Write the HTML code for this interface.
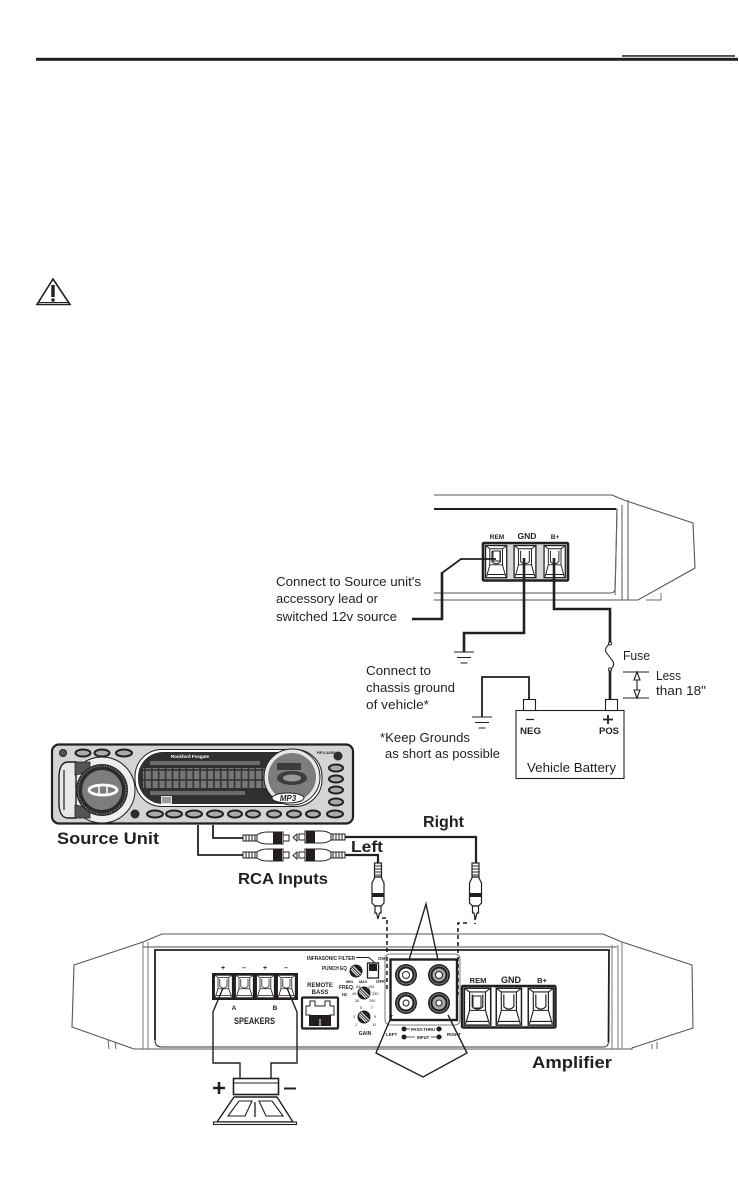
<!DOCTYPE html>
<html><head><meta charset="utf-8">
<style>
html,body{margin:0;padding:0;background:#fff;width:739px;height:1202px;overflow:hidden}
svg{display:block;filter:blur(.3px)}
text{font-family:"Liberation Sans",sans-serif;fill:#231f20}
.r{font-size:13px}
.b{font-weight:bold}
.w{fill:none;stroke:#231f20;stroke-linejoin:miter}
</style></head><body>
<svg width="739" height="1202" viewBox="0 0 739 1202" xmlns="http://www.w3.org/2000/svg">
<defs>
<g id="term">
<rect x="1" y="1" width="20" height="30" fill="#fff" stroke="#231f20" stroke-width="1.200"/>
<path d="M5 4H17V19H5ZM1 1L5 4M21 1L17 4M5 19L2 30M17 19L20 30M3 28H19M7 6V16Q11 20 15 16V6" fill="none" stroke="#231f20" stroke-width=".9"/>
</g>
<g id="male">
<rect x="0" y="-3" width="14" height="6" fill="#fff" stroke="#231f20" stroke-width="1"/>
<path d="M3-3V3M6-3V3M9-3V3M12-3V3" stroke="#231f20" stroke-width="1"/>
<path d="M14-3Q18-6 24-6H40V6H24Q18 6 14 3Z" fill="#fff" stroke="#231f20" stroke-width="1"/>
<rect x="30" y="-6" width="9" height="12" fill="#231f20"/>
<rect x="40" y="-3" width="6" height="6" fill="#fff" stroke="#231f20" stroke-width="1"/>
</g>
<g id="plug">
<rect x="-3.500" y="0" width="7" height="14" fill="#fff" stroke="#231f20" stroke-width="1.200"/>
<path d="M-3 3H3M-3 6H3M-3 9H3M-3 12H3" stroke="#231f20" stroke-width="1"/>
<path d="M-3 14H3L6 20V40L3 43H-3L-6 40V20Z" fill="#fff" stroke="#231f20" stroke-width="1.200"/>
<rect x="-6" y="30" width="12" height="4" fill="#231f20"/>
<path d="M-3 43H3V50H1.500L0 56L-1.500 50H-3Z" fill="#fff" stroke="#231f20" stroke-width="1.200"/>
</g>
<g id="gnd"><path d="M-10 0H10M-7 5.500H7M-3.500 11H3.500" stroke="#231f20" stroke-width="1.100" fill="none"/></g>
<g id="knob"><circle r="6.500" fill="#231f20"/><path d="M-4.500-3.500L3.500 4.500M-3-5L5 3M-5-1.500L1.500 5" stroke="#fff" stroke-width="1"/></g>
<pattern id="lcd" width="6.900" height="10" patternUnits="userSpaceOnUse"><rect width="6.900" height="10" fill="#333"/><rect x=".8" y=".8" width="5.300" height="8.400" fill="#777"/></pattern>
</defs>

<!-- header -->
<rect x="36" y="57.800" width="702" height="3" fill="#231f20"/>
<rect x="622" y="55.200" width="113" height="1.500" fill="#231f20"/>
<path d="M53 279L37 304.500H70Z" fill="#fff" stroke="#231f20" stroke-width="1.600"/>
<path d="M38.500 302.500H68.500" stroke="#231f20" stroke-width="1"/>
<path d="M53 285V297" stroke="#231f20" stroke-width="3.400"/><circle cx="53" cy="300" r="1.700" fill="#231f20"/>

<!-- top amplifier -->
<g class="w">
<path d="M434 495H612L625 500.500L693 523L695 568L638 600H434" stroke-width="1.100" stroke="#555"/>
<path d="M434 509H617Q616 560 615 590Q614 593 610 593H434" stroke-width="1.100" stroke="#555"/>
<path d="M434 509H616" stroke-width="2"/>
<path d="M617 509L615 595M622 505V600M628 500V600" stroke-width="1.100" stroke="#666"/>
<path d="M646 600H661V593" stroke-width=".9" stroke="#666"/>
</g>
<rect x="483" y="543" width="85" height="37.500" rx="1" fill="#d8d8d8" stroke="#231f20" stroke-width="2.600"/>
<g transform="translate(484.500,544.500) scale(1.060,1.070)"><use href="#term"/></g>
<g transform="translate(513,544.500) scale(1.090,1.070)"><use href="#term"/></g>
<g transform="translate(543,544.500) scale(1.060,1.070)"><use href="#term"/></g>
<rect x="493" y="551" width="7" height="10" fill="#fff" stroke="#231f20"/>
<text x="497" y="539" font-size="6.500" class="b" text-anchor="middle">REM</text>
<text x="527" y="539" font-size="8.500" class="b" text-anchor="middle">GND</text>
<text x="555" y="539" font-size="6.500" class="b" text-anchor="middle">B+</text>

<!-- top wires -->
<g class="w">
<path d="M496 559H461L442 573" stroke-width="1.800"/>
<path d="M442 572V619H412" stroke-width="2.600"/>
<path d="M524 558V633H464V652" stroke-width="2.600"/>
<path d="M554 558V609H610V643" stroke-width="2.600"/>
<path d="M610 643Q604 649 606 652T612 660T610 670" stroke-width="1.100"/>
<path d="M610 670V700" stroke-width="2.600"/>
<path d="M529 699V677H482V717" stroke-width="1.800"/>
</g>
<use href="#gnd" x="464" y="652"/>
<use href="#gnd" x="482" y="717"/>
<circle cx="610" cy="643.500" r="1.500" fill="#fff" stroke="#231f20"/>
<circle cx="610" cy="669.500" r="1.500" fill="#fff" stroke="#231f20"/>

<!-- battery -->
<rect x="516" y="710.500" width="108" height="68" fill="#fff" stroke="#231f20" stroke-width="1.100"/>
<rect x="523.500" y="699.500" width="12" height="11" fill="#fff" stroke="#231f20" stroke-width="1.100"/>
<rect x="605.500" y="699.500" width="12" height="11" fill="#fff" stroke="#231f20" stroke-width="1.100"/>
<path d="M526 719.500H534" stroke="#231f20" stroke-width="1.200"/>
<path d="M603 719.500H613M608 715V724" stroke="#231f20" stroke-width="1.800"/>
<text x="520" y="734" font-size="9.500" class="b" textLength="21" lengthAdjust="spacingAndGlyphs">NEG</text>
<text x="599" y="734" font-size="9.500" class="b" textLength="20" lengthAdjust="spacingAndGlyphs">POS</text>
<text x="527" y="772" class="r" textLength="89" lengthAdjust="spacingAndGlyphs">Vehicle Battery</text>

<!-- dimension -->
<path d="M623 672H649M623 698H649M637 672V698" stroke="#231f20" stroke-width="1.100" fill="none"/>
<path d="M637 672L634 680H640ZM637 698L634 690H640Z" fill="#fff" stroke="#231f20" stroke-width="1.100"/>

<!-- labels -->
<text x="623" y="660" class="r" textLength="27" lengthAdjust="spacingAndGlyphs">Fuse</text>
<text x="656" y="680" class="r" textLength="25" lengthAdjust="spacingAndGlyphs">Less</text>
<text x="656" y="695" class="r" textLength="50" lengthAdjust="spacingAndGlyphs">than 18"</text>
<text x="276" y="586" class="r" textLength="145" lengthAdjust="spacingAndGlyphs">Connect to Source unit's</text>
<text x="276" y="603" class="r" textLength="102" lengthAdjust="spacingAndGlyphs">accessory lead or</text>
<text x="276" y="621" class="r" textLength="121" lengthAdjust="spacingAndGlyphs">switched 12v source</text>
<text x="366" y="675" class="r" textLength="65" lengthAdjust="spacingAndGlyphs">Connect to</text>
<text x="366" y="692" class="r" textLength="89" lengthAdjust="spacingAndGlyphs">chassis ground</text>
<text x="366" y="709" class="r" textLength="63" lengthAdjust="spacingAndGlyphs">of vehicle*</text>
<text x="380" y="742" class="r" textLength="90" lengthAdjust="spacingAndGlyphs">*Keep Grounds</text>
<text x="385" y="758" class="r" textLength="115" lengthAdjust="spacingAndGlyphs">as short as possible</text>

<!-- source unit -->
<rect x="52" y="744.500" width="301" height="79" rx="7" fill="#d4d4d4" stroke="#231f20" stroke-width="2.200"/>
<rect x="135" y="749.500" width="187" height="57" rx="27" fill="#fff" stroke="#231f20" stroke-width="1"/>
<rect x="138" y="752" width="181" height="52" rx="25" fill="#303030"/>
<rect x="143" y="768" width="125" height="20" fill="url(#lcd)"/>
<rect x="150" y="761" width="110" height="4" fill="#6a6a6a"/>
<rect x="150" y="791" width="95" height="4" fill="#6a6a6a"/>
<rect x="161" y="796" width="11" height="8" fill="#ddd"/>
<path d="M162 798H171M162 800H171M162 802H171" stroke="#333" stroke-width=".7"/>
<circle cx="292" cy="777" r="28" fill="#e8e8e8" stroke="#231f20" stroke-width="1"/>
<circle cx="292" cy="777" r="24" fill="#7d7d7d"/>
<ellipse cx="292" cy="778" rx="15" ry="7" fill="#3c3c3c"/>
<ellipse cx="292" cy="778" rx="9" ry="3.500" fill="#999"/>
<rect x="277" y="763" width="24" height="7" fill="#3c3c3c"/>
<ellipse cx="288" cy="798" rx="16" ry="5" fill="#fff" stroke="#231f20"/>
<text x="288" y="801" font-size="8" class="b" text-anchor="middle" font-style="italic">MP3</text>
<text x="190" y="758" font-size="4.500" class="b" text-anchor="middle" style="fill:#fff">Rockford Fosgate</text>
<circle cx="102" cy="790" r="33" fill="#eee" stroke="#231f20" stroke-width="1"/>
<path d="M68 762Q60 762 59 775V805Q60 818 68 818H76V762Z" fill="#e8e8e8" stroke="#231f20" stroke-width="1.400"/>
<path d="M64 770V810" stroke="#231f20" stroke-width="1.200"/>
<path d="M75 762H90V772L75 775ZM75 818H90V808L75 805Z" fill="#555" stroke="#231f20" stroke-width=".8"/>
<circle cx="102" cy="790" r="26" fill="#2c2c2c"/>
<circle cx="102" cy="790" r="24" fill="none" stroke="#aaa" stroke-width="1" stroke-dasharray="1 1.500"/>
<circle cx="102" cy="790" r="20" fill="#7d7d7d"/>
<ellipse cx="103" cy="790" rx="14" ry="5" fill="none" stroke="#fff" stroke-width="2.800"/>
<path d="M99 785V795M107 785V795" stroke="#fff" stroke-width="1.500"/>
<g fill="#aaa" stroke="#231f20" stroke-width="2">
<ellipse cx="83" cy="753" rx="7.500" ry="3.500"/><ellipse cx="102" cy="753" rx="7.500" ry="3.500"/><ellipse cx="124" cy="753" rx="8" ry="3.500"/>
<ellipse cx="336" cy="768" rx="7" ry="3.500"/><ellipse cx="336" cy="779" rx="7" ry="3.500"/><ellipse cx="336" cy="790" rx="7" ry="3.500"/><ellipse cx="336" cy="802" rx="7" ry="3.500"/>
<ellipse cx="155" cy="814" rx="8" ry="3.500"/><ellipse cx="174" cy="814" rx="8" ry="3.500"/><ellipse cx="194" cy="814" rx="8" ry="3.500"/><ellipse cx="215" cy="814" rx="8" ry="3.500"/><ellipse cx="235" cy="814" rx="7" ry="3.500"/><ellipse cx="253" cy="814" rx="7" ry="3.500"/><ellipse cx="274" cy="814" rx="7" ry="3.500"/><ellipse cx="294" cy="814" rx="7" ry="3.500"/><ellipse cx="313" cy="814" rx="7" ry="3.500"/><ellipse cx="335" cy="814" rx="8" ry="3.500"/>
</g>
<circle cx="63" cy="753" r="3.500" fill="#555" stroke="#231f20"/>
<circle cx="135" cy="814" r="4.500" fill="#2c2c2c"/>
<circle cx="338" cy="756" r="4.500" fill="#2c2c2c"/>
<text x="317" y="754" font-size="4" class="b">RFX-8350</text>

<!-- source wires -->
<g class="w" stroke-width="1.800">
<path d="M213 825V838H243"/>
<path d="M198 825V855H243"/>
<path d="M345 837H476V863" stroke-width="2.200"/>
<path d="M345 855H378V863" stroke-width="2.200"/>
</g>
<use href="#male" x="243" y="838"/>
<use href="#male" x="243" y="855"/>
<use href="#male" transform="translate(345,837) scale(-1,1)"/>
<use href="#male" transform="translate(345,855) scale(-1,1)"/>
<path d="M297 834L293 837.500L297 841ZM297 852L293 855.500L297 859Z" fill="#fff" stroke="#231f20"/>
<use href="#plug" x="378" y="863"/>
<use href="#plug" x="475.500" y="863"/>

<text x="57" y="844" font-size="17" class="b" textLength="102" lengthAdjust="spacingAndGlyphs">Source Unit</text>
<text x="238" y="884" font-size="16" class="b" textLength="90" lengthAdjust="spacingAndGlyphs">RCA Inputs</text>
<text x="423" y="827" font-size="16" class="b" textLength="41" lengthAdjust="spacingAndGlyphs">Right</text>
<text x="351" y="852" font-size="16" class="b" textLength="32" lengthAdjust="spacingAndGlyphs">Left</text>
<text x="532" y="1068" font-size="17" class="b" textLength="80" lengthAdjust="spacingAndGlyphs">Amplifier</text>

<!-- dashed -->
<g class="w" stroke-width="1.600" stroke-dasharray="4 3">
<path d="M382 918H387V990"/>
<path d="M475 916V924"/>
<path d="M467 923H458V995"/>
</g>

<!-- bottom amplifier -->
<g class="w">
<path d="M134 1049L72 1027L74 965L143 942L162 934H603L622 942L692 965L693 1028L632 1048L632 1049H134" stroke="#555" stroke-width="1.100"/>
<path d="M143 947H617" stroke="#888" stroke-width="1.500"/>
<path d="M143 942V1049M148 942V1049M612 945V1049M618 945V1049M622 942V1048" stroke="#777" stroke-width="1"/>
<path d="M155 1040Q155 1047 162 1047H604Q608 1047 608.500 1042" stroke="#333" stroke-width="1.100"/>
<path d="M155 1040V950H609L608.500 1042" stroke-width="1.800"/>
<path d="M108 1040L109 1049M115 1042L116 1049M652 1044V1049M657 1042V1049" stroke="#666" stroke-width="1"/>
</g>

<!-- speaker terminals -->
<rect x="212" y="973" width="86" height="27" fill="#231f20"/>
<g transform="translate(213.500,974.500) scale(.9,.75)"><use href="#term"/></g>
<g transform="translate(234.500,974.500) scale(.9,.75)"><use href="#term"/></g>
<g transform="translate(255.500,974.500) scale(.9,.75)"><use href="#term"/></g>
<g transform="translate(276.500,974.500) scale(.9,.75)"><use href="#term"/></g>
<text x="223" y="970" font-size="7" class="b" text-anchor="middle">+</text>
<text x="244" y="970" font-size="7" class="b" text-anchor="middle">–</text>
<text x="265" y="970" font-size="7" class="b" text-anchor="middle">+</text>
<text x="286" y="970" font-size="7" class="b" text-anchor="middle">–</text>
<text x="234" y="1010" font-size="6.500" class="b" text-anchor="middle">A</text>
<text x="275" y="1010" font-size="6.500" class="b" text-anchor="middle">B</text>
<text x="234" y="1024" font-size="9" class="b" textLength="41" lengthAdjust="spacingAndGlyphs">SPEAKERS</text>

<!-- speaker -->
<g class="w" stroke-width="1.400">
<path d="M223 988L213 1012V1063H240V1078"/>
<path d="M287 988L297 1012V1063H271V1078"/>
</g>
<rect x="233.500" y="1078.500" width="45" height="16" fill="#fff" stroke="#231f20" stroke-width="1.600"/>
<path d="M233 1083H278" stroke="#231f20" stroke-width="1"/>
<path d="M234 1097H277L293 1122H217Z" fill="#fff" stroke="#231f20" stroke-width="1.400"/>
<rect x="213.500" y="1122" width="83" height="2.500" fill="#fff" stroke="#231f20" stroke-width="1.100"/>
<path d="M239 1101H252L245 1116H228Z M259 1101H272L283 1116H266Z" fill="#fff" stroke="#231f20" stroke-width="1.100"/>
<path d="M255 1102V1117" stroke="#231f20" stroke-width="1.300"/>
<path d="M213 1088H225M219 1082V1094" stroke="#231f20" stroke-width="2.600"/>
<path d="M284 1088.500H296" stroke="#231f20" stroke-width="2"/>

<!-- remote bass -->
<text x="320" y="987" font-size="6" class="b" text-anchor="middle">REMOTE</text>
<text x="320" y="994" font-size="6" class="b" text-anchor="middle">BASS</text>
<rect x="302" y="997.500" width="36" height="31" rx="1" fill="#fff" stroke="#231f20" stroke-width="2.200"/>
<path d="M306 1015V1006H310V1001H315V1006H325V1001H330V1006H334V1015H330V1020H310V1015Z" fill="#fff" stroke="#231f20" stroke-width="1"/>
<rect x="309" y="1015" width="22" height="11" fill="#231f20"/>
<path d="M320 1019V1026" stroke="#fff" stroke-width="1"/>

<!-- controls -->
<text x="307" y="960" font-size="5.800" class="b" textLength="48" lengthAdjust="spacingAndGlyphs">INFRASONIC FILTER</text>
<path d="M356 957.500H369L375 963" stroke="#231f20" stroke-width=".9" fill="none"/>
<text x="322" y="970" font-size="5.800" class="b" textLength="25" lengthAdjust="spacingAndGlyphs">PUNCH EQ</text>
<use href="#knob" x="356" y="971"/>
<text x="346" y="983" font-size="3.800" class="b">MIN</text>
<text x="359" y="983" font-size="3.800" class="b">MAX</text>
<rect x="367.500" y="963" width="11" height="15" fill="#fff" stroke="#231f20" stroke-width="1.300"/>
<rect x="369" y="964" width="8" height="7" fill="#231f20"/>
<text x="378" y="960" font-size="4.500" class="b">ON</text>
<text x="376" y="983" font-size="4.500" class="b">OFF</text>
<text x="339" y="989" font-size="5" class="b">FREQ.</text>
<text x="342" y="996" font-size="4.200" class="b">Hz</text>
<use href="#knob" x="364" y="993"/>
<text x="356" y="988" font-size="3.800">65</text><text x="368" y="988" font-size="3.800">155</text><text x="352" y="995" font-size="3.800">45</text><text x="372" y="995" font-size="3.800">330</text><text x="355" y="1002" font-size="3.800">35</text><text x="369" y="1002" font-size="3.800">290</text>
<use href="#knob" x="364" y="1017"/>
<text x="365" y="1035" font-size="5" class="b" text-anchor="middle">GAIN</text>
<text x="360" y="1009" font-size="3.800">5</text><text x="371" y="1009" font-size="3.800">7</text><text x="353" y="1018" font-size="3.800">3</text><text x="374" y="1018" font-size="3.800">9</text><text x="355" y="1026" font-size="3.800">1</text><text x="372" y="1026" font-size="3.800">10</text>

<!-- inputs -->
<rect x="385" y="954" width="75" height="71" rx="5" fill="#fff" stroke="#555" stroke-width=".8"/>
<path d="M387 957V990M458 957V995" stroke="#231f20" stroke-width="1.600" stroke-dasharray="4 3" fill="none"/>
<rect x="390.500" y="959.500" width="66.500" height="60.500" fill="#fff" stroke="#231f20" stroke-width="2.400"/>
<g>
<circle cx="406" cy="975" r="11" fill="#231f20"/><circle cx="406" cy="975" r="9" fill="none" stroke="#999" stroke-width=".8"/><circle cx="406" cy="975" r="6.500" fill="#fff"/><circle cx="406" cy="975" r="3.500" fill="#fff" stroke="#231f20"/>
<circle cx="439" cy="975" r="11" fill="#231f20"/><circle cx="439" cy="975" r="9" fill="none" stroke="#999" stroke-width=".8"/><circle cx="439" cy="975" r="6.500" fill="#aaa"/><circle cx="439" cy="975" r="3.500" fill="#fff" stroke="#231f20"/>
<circle cx="406" cy="1003" r="11" fill="#231f20"/><circle cx="406" cy="1003" r="9" fill="none" stroke="#999" stroke-width=".8"/><circle cx="406" cy="1003" r="6.500" fill="#fff"/><circle cx="406" cy="1003" r="3" fill="#fff" stroke="#231f20"/>
<circle cx="439" cy="1003" r="11" fill="#231f20"/><circle cx="439" cy="1003" r="9" fill="none" stroke="#999" stroke-width=".8"/><circle cx="439" cy="1003" r="6.500" fill="#aaa"/><circle cx="439" cy="1003" r="3" fill="#fff" stroke="#231f20"/>
</g>
<text x="386" y="1036" font-size="4.500" class="b">LEFT</text>
<text x="447" y="1036" font-size="4.500" class="b">RIGHT</text>
<path d="M404 1029H442M404 1037H442" stroke="#231f20" stroke-width=".8"/>
<circle cx="404" cy="1029" r="2.500" fill="#231f20"/><circle cx="439" cy="1029" r="2.500" fill="#231f20"/><circle cx="404" cy="1037" r="2.500" fill="#231f20"/><circle cx="439" cy="1037" r="2.500" fill="#231f20"/>
<rect x="410" y="1026" width="26" height="5" fill="#fff"/><rect x="415" y="1034" width="16" height="5" fill="#fff"/>
<text x="423" y="1031" font-size="4.200" class="b" text-anchor="middle">PASS-THRU</text>
<text x="423" y="1039" font-size="4.200" class="b" text-anchor="middle">INPUT</text>

<!-- callouts -->
<g class="w" stroke-width="1.400">
<path d="M409 960L426 904L438 960"/>
<path d="M392 1015L376 1053L423 1077L467 1053L448 1015"/>
</g>

<!-- right terminal block -->
<rect x="462" y="986" width="93.500" height="41.500" rx="1" fill="#fff" stroke="#231f20" stroke-width="2.400"/>
<g transform="translate(463,987) scale(1.320,1.230)"><use href="#term"/></g>
<g transform="translate(495,987) scale(1.260,1.230)"><use href="#term"/></g>
<g transform="translate(527,987) scale(1.260,1.230)"><use href="#term"/></g>
<rect x="473" y="996" width="8" height="12" fill="#fff" stroke="#231f20"/>
<text x="478" y="983" font-size="7.500" class="b" text-anchor="middle">REM</text>
<text x="511" y="983" font-size="9" class="b" text-anchor="middle">GND</text>
<text x="542" y="983" font-size="7.500" class="b" text-anchor="middle">B+</text>
</svg>
</body></html>
